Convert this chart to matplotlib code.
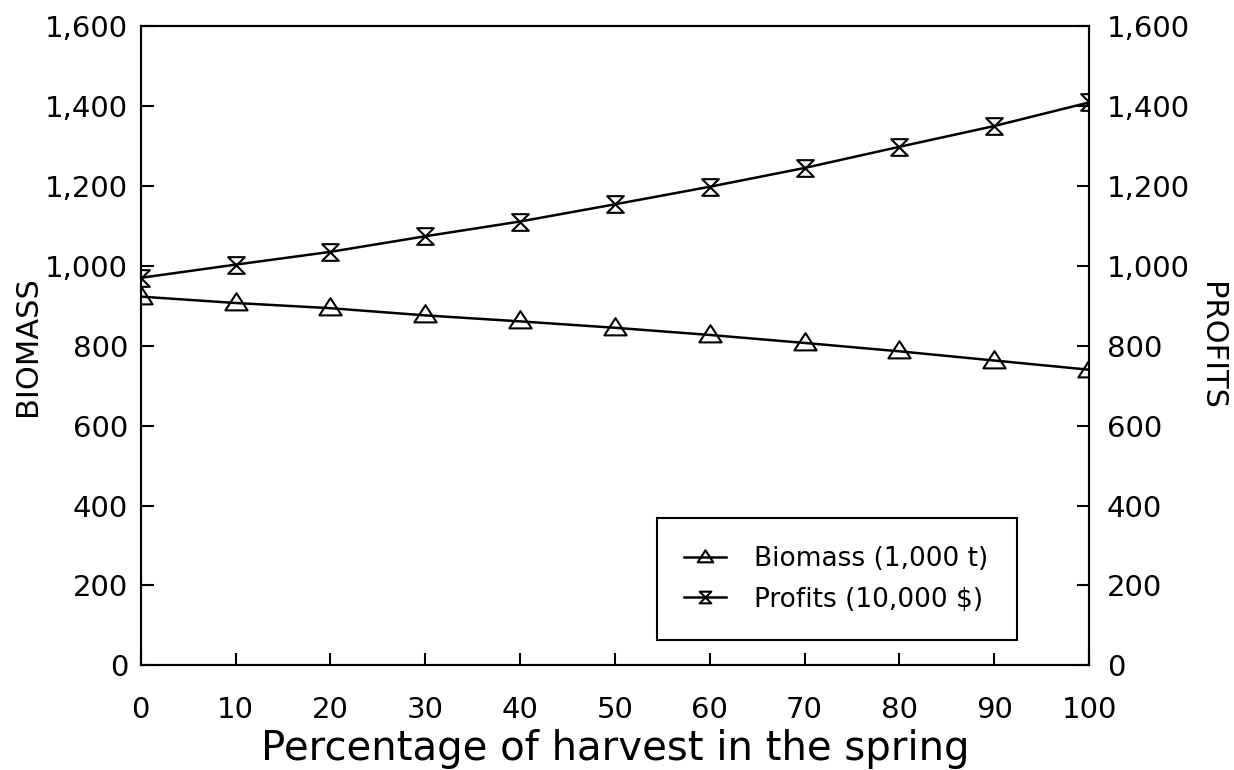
import matplotlib
matplotlib.use("Agg")
import matplotlib.pyplot as plt
from matplotlib.path import Path
from matplotlib.ticker import FuncFormatter

# values
pct_spring = [0, 10, 20, 30, 40, 50, 60, 70, 80, 90, 100]
biomass = [923, 907, 894, 876, 861, 845, 827, 807, 786, 763, 740]
profits = [970, 1003, 1035, 1074, 1111, 1154, 1198, 1245, 1298, 1350, 1409]
yticks = [0, 200, 400, 600, 800, 1000, 1200, 1400, 1600]

plt.rcParams["font.family"] = "DejaVu Sans"

# open triangle sitting above the point, and an hourglass
tri = Path([(-1, -0.62), (1, -0.62), (0, 0.93), (-1, -0.62)],
           [Path.MOVETO, Path.LINETO, Path.LINETO, Path.CLOSEPOLY])
hourglass = Path([(-1, 1), (1, 1), (-1, -1), (1, -1), (-1, 1)],
                 [Path.MOVETO, Path.LINETO, Path.LINETO, Path.LINETO, Path.CLOSEPOLY])

fig = plt.figure(figsize=(12.34, 7.70), dpi=100)
ax = fig.add_axes([0.114, 0.136, 0.7685, 0.830])
ax2 = ax.twinx()

l1, = ax.plot(pct_spring, biomass, color="black", lw=1.8, marker=tri,
              markersize=16, markerfacecolor="none", markeredgecolor="black",
              markeredgewidth=1.5, label="Biomass (1,000 t)")
l2, = ax2.plot(pct_spring, profits, color="black", lw=1.8, marker=hourglass,
               markersize=12, markerfacecolor="none", markeredgecolor="black",
               markeredgewidth=1.5, label="Profits (10,000 $)")

fmt = FuncFormatter(lambda v, p: f"{int(v):,}")
for a in (ax, ax2):
    a.set_xlim(0, 100)
    a.set_ylim(0, 1600)
    a.set_yticks(yticks)
    a.yaxis.set_major_formatter(fmt)
    for s in a.spines.values():
        s.set_linewidth(1.5)

ax.set_xticks(pct_spring)
ax.tick_params(axis="x", direction="in", length=9, width=1.5, labelsize=21, pad=22, top=False)
ax.tick_params(axis="y", direction="in", length=9, width=1.5, labelsize=21, pad=9)
ax2.tick_params(axis="y", direction="in", length=9, width=1.5, labelsize=21, pad=13)

ax.set_xlabel("Percentage of harvest in the spring", fontsize=29, labelpad=4)
ax.set_ylabel("BIOMASS", fontsize=22, labelpad=2)
ax2.set_ylabel("PROFITS", fontsize=22, rotation=270, labelpad=26)

leg = ax.legend([l1, l2], [l1.get_label(), l2.get_label()],
                loc="lower left", bbox_to_anchor=(0.544, 0.039, 0.38, 0.197),
                mode="expand", fontsize=19, frameon=True, fancybox=False,
                edgecolor="black", framealpha=1, borderpad=1.05,
                labelspacing=0.55, handlelength=1.6, handletextpad=1.05,
                markerscale=0.7, borderaxespad=0)
leg.get_frame().set_linewidth(1.5)

fig.savefig("out.png", dpi=100)
